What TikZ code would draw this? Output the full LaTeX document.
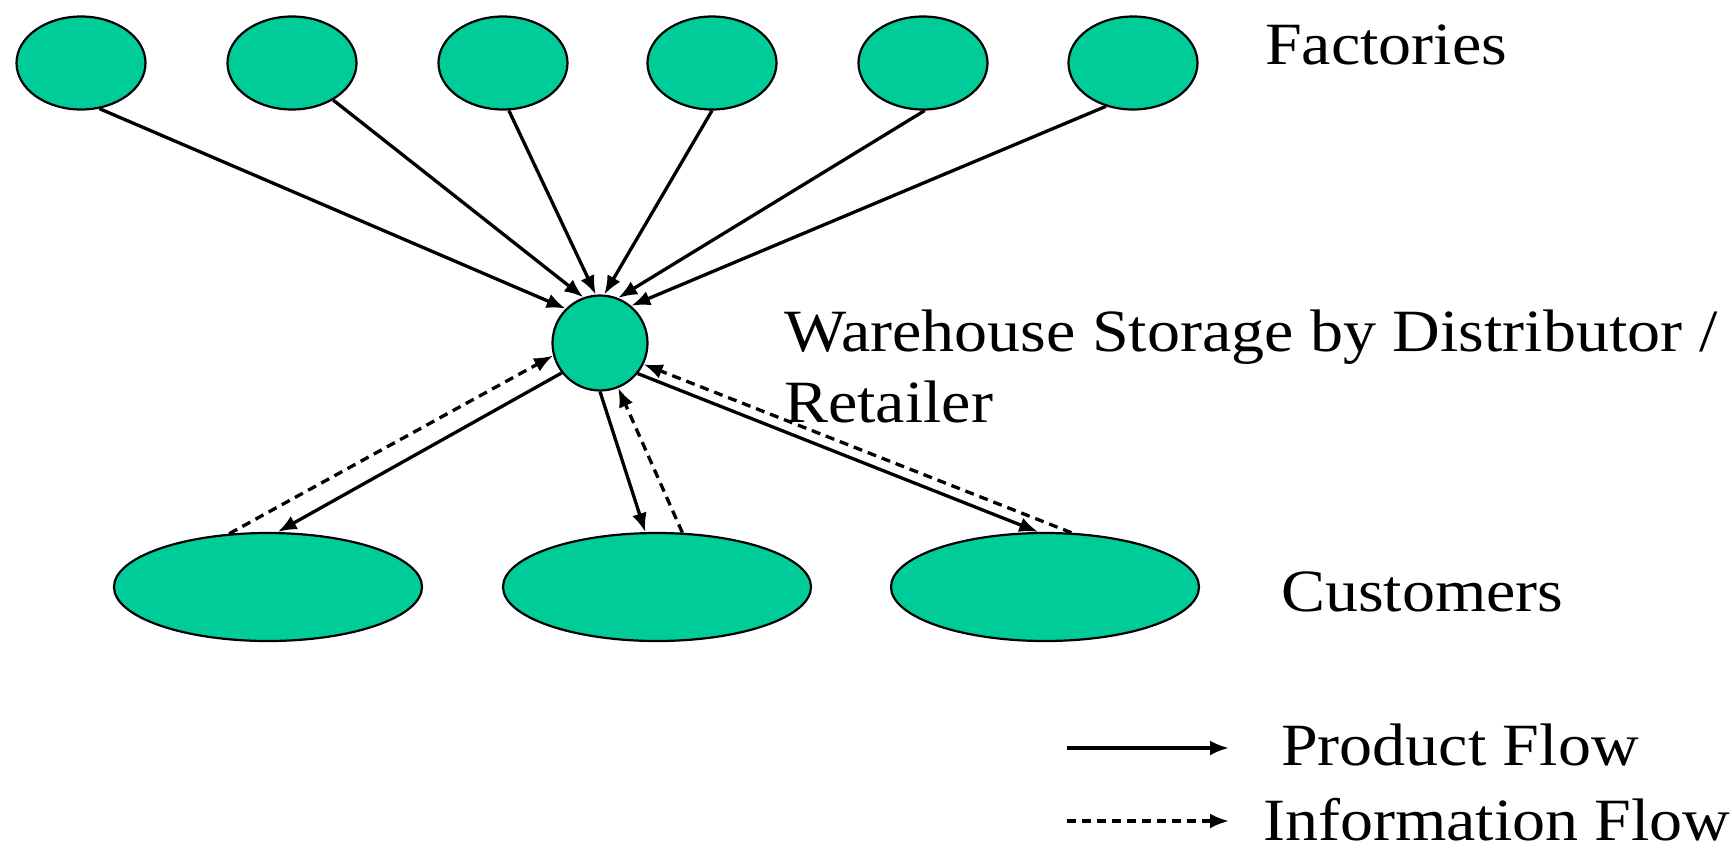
\documentclass[tikz,border=0pt]{standalone}
\usepackage{fontspec}
\setmainfont{Liberation Serif}[FakeStretch=1.1]
\usetikzlibrary{arrows.meta,shapes.geometric}
\definecolor{nodegreen}{RGB}{0,204,153}
\tikzset{
  site/.style={ellipse, draw=black, line width=2.2pt, fill=nodegreen, inner sep=0pt},
  factory/.style={site, minimum width=129pt, minimum height=93pt},
  customer/.style={site, minimum width=308pt, minimum height=108pt},
  depot/.style={circle, draw=black, line width=2.2pt, fill=nodegreen, minimum size=95pt, inner sep=0pt},
  textlabel/.style={anchor=base west, inner sep=0pt, font=\fontsize{60}{72}\selectfont},
  product/.style={line width=3.3pt, -{Latex[length=19pt,width=15pt]}},
  info/.style={line width=3.3pt, dash pattern=on 9pt off 6pt, -{Latex[length=19pt,width=15pt]}},
}
\begin{document}
\begin{tikzpicture}[x=1pt,y=-1pt]
\useasboundingbox (0,0) rectangle (1732,852);

% factories
\node[factory] (f1) at (81,63) {};
\node[factory] (f2) at (292,63) {};
\node[factory] (f3) at (503,63) {};
\node[factory] (f4) at (712,63) {};
\node[factory] (f5) at (923,63) {};
\node[factory] (f6) at (1133,63) {};

% warehouse
\node[depot] (w) at (600,343) {};

% customers
\node[customer] (c1) at (268,587) {};
\node[customer] (c2) at (657,587) {};
\node[customer] (c3) at (1045,587) {};

% texts
\node[textlabel] (tf) at (1265,64) {Factories};
\node[textlabel] (tw1) at (784,351) {Warehouse Storage by Distributor /};
\node[textlabel] (tw2) at (784,422) {Retailer};
\node[textlabel] (tc) at (1281,611) {Customers};
\node[textlabel] (tp) at (1281,765) {Product Flow};
\node[textlabel] (ti) at (1263,840) {Information Flow};

% product flow from factories
\draw[product] (f1.-68) -- (w.135);
\draw[product] (f2.-42) -- (w.110);
\draw[product] (f3.-83) -- (w.95);
\draw[product] (f4.-90) -- (w.85);
\draw[product] (f5.-88) -- (w.68);
\draw[product] (f6.-122) -- (w.50);

% product flow to customers
\draw[product] (w.-142) -- (c1.80);
\draw[product] (w.-90) -- (c2.102);
\draw[product] (w.-39) -- (c3.97);

% information flow back from customers
\draw[info] (c1.126) -- (w.195);
\draw[info] (c2.65) -- (w.-68);
\draw[info] (c3.64) -- (w.-26);

% legend
\coordinate (lp1) at (1067,748);
\coordinate (lp2) at (1229,748);
\coordinate (li1) at (1067,821);
\coordinate (li2) at (1229,821);
\draw[product] (lp1) -- (lp2);
\draw[info] (li1) -- (li2);
\end{tikzpicture}
\end{document}
